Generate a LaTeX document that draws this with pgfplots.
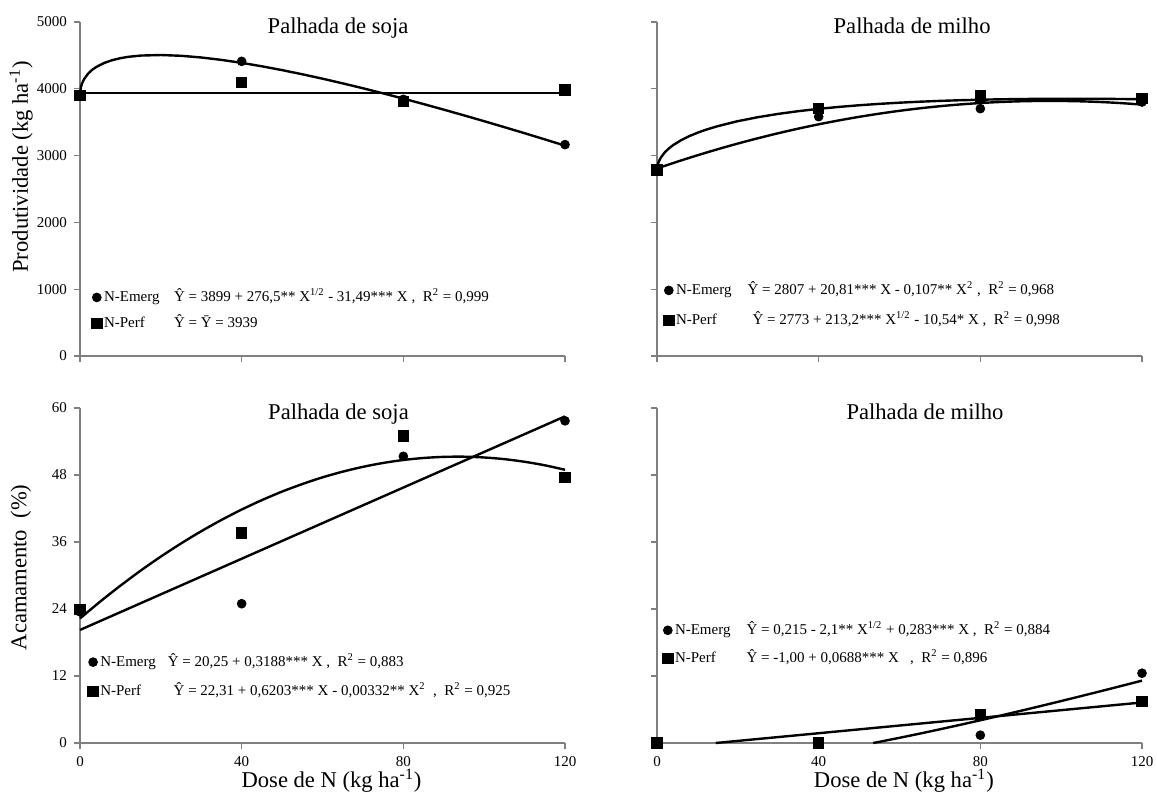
\documentclass[border=0pt]{standalone}
\usepackage{fontspec}
\setmainfont{Liberation Serif}
\usepackage{pgfplots}
\pgfplotsset{compat=1.18}

\newcommand{\tickfont}{\fontsize{7.5}{9}\selectfont}
\newcommand{\bigfont}{\fontsize{11.3}{13}\selectfont}

\pgfplotsset{
  panel/.style={
    scale only axis, width=242.5pt,
    axis x line*=bottom, axis y line*=left,
    xmin=0, xmax=120, xtick={0,40,80,120},
    tick align=outside, major tick length=3pt,
    axis line style={draw=gray, line width=0.6pt},
    every tick/.style={draw=gray, line width=0.6pt},
    tick label style={font=\tickfont, black},
    /pgf/number format/assume math mode=true,
    /pgf/number format/set thousands separator={},
    label style={font=\bigfont},
    clip=false,
    legend cell align=left,
    legend image code/.code={\path (-2.6pt,0pt) (2.6pt,0pt); \draw[##1] plot coordinates {(0pt,0pt)};},
    legend style={draw=none, fill=none, inner sep=0pt, font=\tickfont,
      nodes={inner sep=0pt, text height=6pt, text depth=1.5pt},
      column sep=0.8pt, anchor=north west},
  },
  toprow/.style={height=167pt, ymin=0, ymax=5000, ytick={0,1000,2000,3000,4000,5000}, xticklabels={}},
  botrow/.style={height=167.5pt, ymin=0, ymax=60, ytick={0,12,24,36,48,60},
    xlabel={Dose de N (kg ha\textsuperscript{-1})}},
  emerg/.style={only marks, mark=*, mark size=2.2pt, black},
  perf/.style={only marks, mark=square*, mark size=2.6pt, black},
  fit/.style={black, line width=1.2pt, no marks, forget plot},
}

\begin{document}
\begin{tikzpicture}
\path[use as bounding box] (0pt,0pt) rectangle (578.5pt,397pt);

% ---------------- top left ----------------
\begin{axis}[panel, toprow, at={(40pt,219pt)}, anchor=south west,
  ylabel={Produtividade (kg ha\textsuperscript{-1})},
  every axis y label/.append style={at={(axis description cs:-0.1216,0.566)}, anchor=center},
  legend style={at={(axis description cs:0.0223,0.199)}, row sep=5.5pt}]
\addplot[fit] coordinates {
(0,3899) (0.25,4029.4) (0.5,4078.8) (1,4144.0) (2,4227.1) (3,4283.4) (4,4326.0)
(6,4387.4) (8,4429.1) (10,4458.5) (12,4478.9) (15,4497.5) (20,4505.7) (25,4494.3)
(30,4468.8) (35,4432.6) (40,4388.2) (45,4336.8) (50,4279.7) (55,4217.6) (60,4151.4)
(65,4081.4) (70,4008.1) (75,3931.8) (80,3852.9) (85,3771.5) (90,3688.0) (95,3602.5)
(100,3515.0) (105,3425.9) (110,3335.1) (115,3242.8) (120,3149.1)};
\addplot[fit] coordinates {(0,3939) (120,3939)};
\addplot[emerg] coordinates {(0,3899) (40,4411) (80,3842) (120,3164)};
\addlegendentry{\makebox[35pt][l]{N-Emerg}Ŷ = 3899 + 276,5** X\textsuperscript{1/2} - 31,49*** X ,\ \ R\textsuperscript{2} = 0,999}
\addplot[perf] coordinates {(0,3902) (40,4092) (80,3807) (120,3982)};
\addlegendentry{\makebox[35pt][l]{N-Perf}Ŷ = Ȳ = 3939}
\node[font=\bigfont, anchor=base] at (axis description cs:0.532,1) [yshift=-5.7pt] {Palhada de soja};
\end{axis}

% ---------------- top right ----------------
\begin{axis}[panel, toprow, at={(328.5pt,219pt)}, anchor=south west, yticklabels={},
  legend style={at={(axis description cs:0.012,0.220)}, row sep=7.5pt}]
\addplot[fit, smooth] coordinates {
(0,2807) (5,2908.4) (10,3004.4) (15,3095.1) (20,3180.4) (25,3260.4) (30,3335.0)
(35,3404.3) (40,3468.2) (45,3526.8) (50,3580.0) (55,3627.9) (60,3670.4) (65,3707.6)
(70,3739.4) (75,3765.9) (80,3787.0) (85,3802.8) (90,3813.2) (95,3818.3) (100,3818.0)
(105,3812.4) (110,3801.4) (115,3785.1) (120,3763.4)};
\addplot[fit] coordinates {
(0,2773) (0.25,2877.0) (0.5,2918.5) (1,2975.7) (2,3053.4) (3,3110.7) (4,3157.2)
(6,3232.0) (8,3291.7) (10,3341.8) (12,3385.1) (15,3440.6) (20,3515.7) (25,3575.5)
(30,3624.5) (35,3665.4) (40,3699.8) (45,3728.9) (50,3753.6) (55,3774.4) (60,3792.1)
(65,3806.8) (70,3819.0) (75,3828.9) (80,3836.7) (85,3842.7) (90,3847.0) (95,3849.7)
(100,3851.0) (105,3851.0) (110,3849.7) (115,3847.2) (120,3843.7)};
\addplot[emerg] coordinates {(0,2780) (40,3583) (80,3703) (120,3802)};
\addlegendentry{\makebox[35.8pt][l]{N-Emerg}Ŷ = 2807 + 20,81*** X - 0,107** X\textsuperscript{2} ,\ \ R\textsuperscript{2} = 0,968}
\addplot[perf] coordinates {(0,2784) (40,3703) (80,3892) (120,3852)};
\addlegendentry{\makebox[38.3pt][l]{N-Perf}Ŷ = 2773 + 213,2*** X\textsuperscript{1/2} - 10,54* X ,\ \ R\textsuperscript{2} = 0,998}
\node[font=\bigfont, anchor=base] at (axis description cs:0.526,1) [yshift=-5.7pt] {Palhada de milho};
\end{axis}

% ---------------- bottom left ----------------
\begin{axis}[panel, botrow, at={(40pt,25.5pt)}, anchor=south west,
  ylabel={Acamamento~ (\%)},
  every axis y label/.append style={at={(axis description cs:-0.1216,0.524)}, anchor=center},
  every axis x label/.append style={at={(axis description cs:0.5186,0)}, yshift=-22.15pt, anchor=base},
  legend style={at={(axis description cs:0.0146,0.265)}, row sep=7pt}]
\addplot[fit] coordinates {(0,20.25) (120,58.506)};
\addplot[fit, smooth] coordinates {
(0,22.31) (5,25.33) (10,28.18) (15,30.87) (20,33.39) (25,35.74) (30,37.93)
(35,39.95) (40,41.81) (45,43.50) (50,45.03) (55,46.38) (60,47.58) (65,48.60)
(70,49.46) (75,50.16) (80,50.69) (85,51.05) (90,51.25) (95,51.28) (100,51.14)
(105,50.84) (110,50.37) (115,49.74) (120,48.94)};
\addplot[emerg] coordinates {(0,23.5) (40,24.95) (80,51.35) (120,57.7)};
\addlegendentry{\makebox[33.8pt][l]{N-Emerg}Ŷ = 20,25 + 0,3188*** X ,\ \ R\textsuperscript{2} = 0,883}
\addplot[perf] coordinates {(0,23.9) (40,37.6) (80,55.0) (120,47.6)};
\addlegendentry{\makebox[36.7pt][l]{N-Perf}Ŷ = 22,31 + 0,6203*** X - 0,00332** X\textsuperscript{2} \ ,\ \ R\textsuperscript{2} = 0,925}
\node[font=\bigfont, anchor=base] at (axis description cs:0.533,1) [yshift=-5.5pt] {Palhada de soja};
\end{axis}

% ---------------- bottom right ----------------
\begin{axis}[panel, botrow, at={(328.5pt,25.5pt)}, anchor=south west, yticklabels={},
  every axis x label/.append style={at={(axis description cs:0.509,0)}, yshift=-22.15pt, anchor=base},
  legend style={at={(axis description cs:0.0099,0.36)}, row sep=6.5pt}]
\addplot[fit] coordinates {
(53.5,0) (55,0.206) (60,0.928) (65,1.679) (70,2.455) (75,3.253) (80,4.072) (85,4.909)
(90,5.763) (95,6.632) (100,7.515) (105,8.411) (110,9.320) (115,10.240) (120,11.171)};
\addplot[fit] coordinates {(14.53,0) (120,7.256)};
\addplot[emerg] coordinates {(0,0) (40,0) (80,1.4) (120,12.5)};
\addlegendentry{\makebox[35.8pt][l]{N-Emerg}Ŷ = 0,215 - 2,1** X\textsuperscript{1/2} + 0,283*** X ,\ \ R\textsuperscript{2} = 0,884}
\addplot[perf] coordinates {(0,0) (40,0) (80,5.1) (120,7.5)};
\addlegendentry{\makebox[35.8pt][l]{N-Perf}Ŷ = -1,00 + 0,0688*** X \ \ ,\ \ R\textsuperscript{2} = 0,896}
\node[font=\bigfont, anchor=base] at (axis description cs:0.5526,1) [yshift=-5.8pt] {Palhada de milho};
\end{axis}
\end{tikzpicture}
\end{document}
